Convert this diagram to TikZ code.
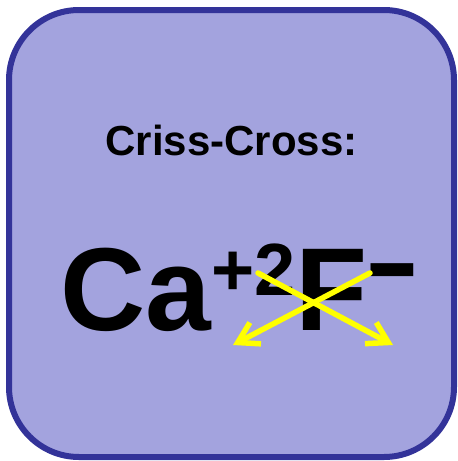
\documentclass[tikz,border=0pt]{standalone}
\usepackage{fontspec}
\setmainfont{Liberation Sans}
\usepackage{xcolor}
\usetikzlibrary{arrows.meta,positioning}
\definecolor{cardfill}{RGB}{163,163,222}
\definecolor{cardedge}{RGB}{51,51,153}
\definecolor{crossyellow}{RGB}{255,255,0}

\begin{document}
\begin{tikzpicture}[
    x=1pt, y=-1pt,
    card/.style={draw=cardedge, fill=cardfill, line width=6pt, rounded corners=70pt},
    arrow/.style={-{Straight Barb[length=20pt,width=24pt]}, line width=5.5pt, draw=crossyellow, line cap=round},
    chem/.style={inner sep=0pt, anchor=base west, font=\bfseries\fontsize{118}{120}\selectfont}
  ]
    \useasboundingbox (0,0) rectangle (458,461);
    \draw[card] (9,10) rectangle (454,457);

    \node[inner sep=0pt, anchor=base, font=\bfseries\fontsize{42}{50}\selectfont] (title) at (231.5,155) {Criss-Cross:};
    \node[chem] (formula) at (60,330) {Ca\raisebox{35pt}{\fontsize{74}{80}\selectfont +2}F\raisebox{21pt}{\fontsize{74}{80}\selectfont\scalebox{1.15}[1.6]{\textminus}}};

    % criss-cross ends
    \coordinate (chargeCa) at (258,273);
    \coordinate (chargeF) at (370,273);
    \coordinate (subCa) at (233,345);
    \coordinate (subF) at (393,345);

    \draw[arrow] (chargeCa) -- (subF);
    \draw[arrow] (chargeF) -- (subCa);
  \end{tikzpicture}
\end{document}
